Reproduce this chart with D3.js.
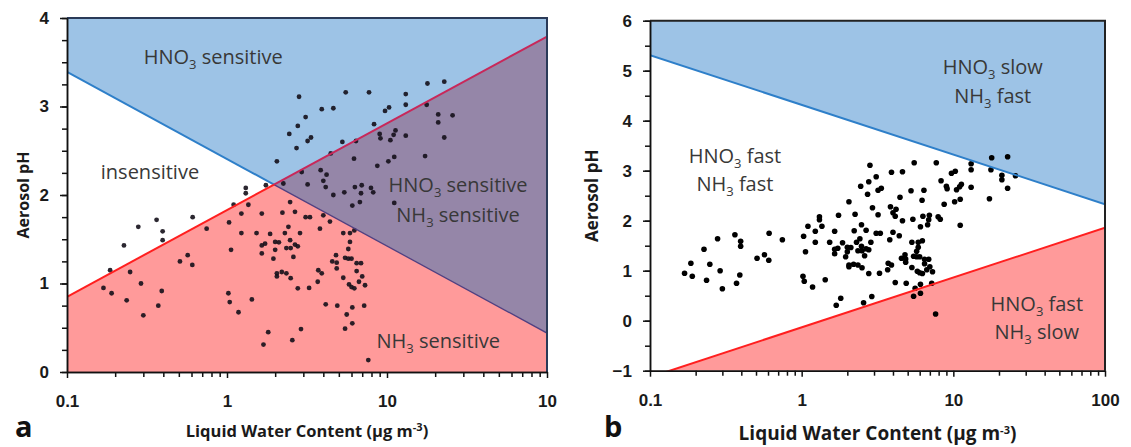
<!DOCTYPE html>
<html lang="en">
<head>
    <meta charset="UTF-8">
    <script src="https://cdnjs.cloudflare.com/ajax/libs/d3/7.8.5/d3.min.js"></script>
    <title>Aerosol pH sensitivity</title>
<style>
    body{
        margin: 0;
        background: white;
        font-family: 'Open Sans', 'Noto Sans', sans-serif;
    }
    .tickText text{
        font-weight: bold;
        font-size: 16px;
        fill: #1a1a1a;
    }
    .tickText path, .tickText line{
        stroke: #111;
        stroke-width: 1.5;
    }
    .region{
        font-size: 20px;
        fill: #383838;
    }
    .title{
        font-weight: bold;
        font-size: 16px;
        fill: #1a1a1a;
    }
    .panelLetter{
        font-weight: bold;
        font-size: 29px;
        fill: #111;
    }
</style>
</head>
<body>
<svg id="chart"></svg>
<script>
    // measurements: [liquid water content (ug m-3), aerosol pH]
    const measurements = [
        [0.169,0.95],[0.186,1.15],[0.19,0.89],[0.227,1.43],[0.236,0.81],[0.248,1.13],
        [0.279,1.64],[0.29,1.0],[0.30,0.64],[0.363,1.72],[0.372,0.75],[0.391,0.915],
        [0.396,1.59],[0.396,1.49],[0.508,1.25],[0.568,1.32],[0.607,1.21],[0.61,1.75],
        [0.746,1.62],[1.02,0.89],[1.03,1.69],[1.04,0.79],[1.06,1.38],[1.10,1.89],
        [1.18,0.675],[1.23,1.57],[1.23,1.79],[1.31,2.08],[1.31,2.02],[1.36,1.89],
        [1.43,0.82],[1.53,1.57],[1.65,1.43],[1.65,1.34],[1.65,1.79],[1.69,0.31],
        [1.73,1.45],[1.75,2.11],[1.81,0.45],[1.86,1.56],[1.95,1.28],[2.0,1.47],
        [2.0,1.38],[2.05,2.38],[2.05,1.115],[2.05,1.08],
        [2.82,3.11],[5.52,3.16],[7.72,3.16],[17.9,3.26],[22.8,3.28],[3.91,2.97],
        [4.62,2.98],[3.10,2.88],[2.77,2.78],[2.45,2.69],[3.35,2.65],[3.19,2.61],
        [2.72,2.53],[5.26,2.60],[6.4,2.61],[4.45,2.47],[8.3,2.80],[9.72,2.95],
        [10.3,2.99],[13.1,3.14],[13.1,3.02],[17.7,3.02],[20.9,2.91],[20.9,2.82],
        [25.7,2.90],[22.8,2.65],[9.0,2.69],[9.1,2.64],[11.3,2.73],[11.0,2.68],
        [10.5,2.62],[13.1,2.67],[6.22,2.41],[8.7,2.33],[10.2,2.38],[11.1,2.43],
        [17.3,2.44],[2.93,2.26],[2.25,2.13],[3.85,2.28],[4.19,2.23],[4.0,2.16],
        [3.19,2.12],[4.14,2.09],[4.62,2.0],[5.41,2.03],[6.3,2.09],[6.95,2.11],
        [6.88,2.02],[7.94,2.08],[8.2,2.03],[6.77,1.92],[6.07,1.88],[11.1,1.91],
        [2.48,1.92],[2.66,1.81],[2.22,1.80],[3.1,1.75],[3.3,1.75],[4.0,1.77],
        [2.42,1.64],[2.30,1.57],[2.86,1.57],[3.81,1.62],[5.33,1.57],[5.87,1.57],
        [6.25,1.6],[5.87,1.47],[5.73,1.39],[2.11,1.465],[2.48,1.49],[2.5,1.40],
        [2.35,1.40],[2.66,1.44],[2.77,1.42],[2.6,1.30],[2.2,1.13],[2.35,1.115],
        [2.5,1.06],[2.77,0.945],[3.26,0.95],[3.72,1.15],[3.91,1.115],[3.69,1.02],
        [4.8,1.32],[4.85,1.235],[4.55,1.25],[4.85,1.17],[5.47,1.29],[5.73,1.28],
        [6.0,1.28],[6.46,1.23],[6.88,1.23],[6.46,1.14],[5.33,1.065],[5.79,0.99],
        [6.0,0.96],[6.25,0.945],[7.0,1.08],[6.68,1.02],[7.29,0.98],[4.14,0.765],
        [4.89,0.75],[6.07,0.73],[7.2,0.75],[5.6,0.65],[6.07,0.55],[5.47,0.49],
        [2.9,0.485],[2.56,0.36],[7.64,0.135],[4.4,1.70]
    ]

    // boundary lines, pH at LWC = 0.1 and LWC = 100
    const hno3LineA = [[0.1, 3.39], [100, 0.44]]
    const nh3LineA = [[0.1, 0.85], [100, 3.79]]
    const hno3LineB = [[0.1, 5.31], [100, 2.33]]
    const nh3LineB = [[0.1, -1.13], [100, 1.86]]

    const xTickValues = [0.1, 1, 10, 100]
    const xTickLabelsA = ['0.1', '1', '10', '10']
    const xTickLabelsB = ['0.1', '1', '10', '100']
    const yTicksA = [0, 1, 2, 3, 4]
    const yTicksB = [-1, 0, 1, 2, 3, 4, 5, 6]

    const W = 1131, H = 447
    const svg = d3.select('#chart')
        .attr('width', W)
        .attr('height', H)

    // where two boundary lines meet (both straight on the log axis)
    function crossing(a, b) {
        const lg = Math.log10
        const sa = (a[1][1] - a[0][1]) / (lg(a[1][0]) - lg(a[0][0]))
        const sb = (b[1][1] - b[0][1]) / (lg(b[1][0]) - lg(b[0][0]))
        const u = (b[0][1] - a[0][1]) / (sa - sb)
        return [a[0][0] * Math.pow(10, u), a[0][1] + sa * u]
    }

    function makePanel(cfg) {
        const x = d3.scaleLog().domain([0.1, 100]).range([cfg.left, cfg.right])
        const y = d3.scaleLinear().domain(cfg.yDomain).range([cfg.bottom, cfg.top])
        const g = svg.append('g')

        g.append('clipPath').attr('id', cfg.id + 'clip')
            .append('rect')
            .attr('x', cfg.left).attr('y', cfg.top)
            .attr('width', cfg.right - cfg.left).attr('height', cfg.bottom - cfg.top)

        const plot = g.append('g').attr('clip-path', 'url(#' + cfg.id + 'clip)')
        const poly = pts => pts.map(p => [x(p[0]), y(p[1])].join(',')).join(' ')

        // filled regions
        cfg.regions.forEach(r => {
            plot.append('polygon')
                .attr('points', poly(r.pts))
                .attr('fill', r.fill)
        })

        // points
        plot.selectAll('circle')
            .data(measurements)
            .enter()
            .append('circle')
            .attr('cx', d => x(d[0]))
            .attr('cy', d => y(d[1]))
            .attr('r', cfg.dotR)
            .attr('fill', cfg.dotColor)

        // boundary lines
        const line = d3.line().x(d => x(d[0])).y(d => y(d[1]))
        cfg.lines.forEach(l => {
            plot.append('path')
                .attr('d', line(l.pts))
                .attr('fill', 'none')
                .attr('stroke', l.color)
                .attr('stroke-width', l.width)
        })

        // frame on top and right
        g.append('path')
            .attr('d', 'M' + cfg.left + ',' + cfg.top + 'H' + cfg.right + 'V' + cfg.bottom)
            .attr('fill', 'none')
            .attr('stroke', cfg.frame)
            .attr('stroke-width', 2)

        //create axes
        const minorX = [0.1, 1, 10].flatMap(d => d3.range(2, 10).map(k => k * d))
        g.append('g')
            .attr('class', 'tickText')
            .attr('transform', 'translate(0,' + cfg.bottom + ')')
            .call(d3.axisBottom(x).tickValues(minorX).tickSize(5).tickSizeOuter(0).tickFormat(''))
        const xAxis = g.append('g')
            .attr('class', 'tickText')
            .attr('transform', 'translate(0,' + cfg.bottom + ')')
            .call(d3.axisBottom(x).tickValues(xTickValues).tickSize(6).tickSizeOuter(0)
                .tickFormat((d, i) => cfg.xLabels[i]))
        xAxis.selectAll('text').attr('y', 23).attr('dy', '0.71em').style('font-size', '17px')

        const minorY = d3.range(cfg.yDomain[0], cfg.yDomain[1] + 0.001, cfg.yMinor)
        g.append('g')
            .attr('class', 'tickText')
            .attr('transform', 'translate(' + cfg.left + ',0)')
            .call(d3.axisLeft(y).tickValues(minorY).tickSize(5).tickSizeOuter(0).tickFormat(''))
        const yAxis = g.append('g')
            .attr('class', 'tickText')
            .attr('transform', 'translate(' + cfg.left + ',0)')
            .call(d3.axisLeft(y).tickValues(cfg.yTicks).tickSize(7).tickSizeOuter(0).tickFormat(d3.format('d')))
        yAxis.selectAll('text').attr('x', -18).style('font-size', '17px')

        // region labels
        cfg.labels.forEach(lb => {
            const t = g.append('text')
                .attr('class', 'region')
                .attr('x', x(lb.at[0]))
                .attr('y', y(lb.at[1]))
                .attr('text-anchor', 'middle')
            t.append('tspan').text(lb.pre)
            if (lb.sub) {
                t.append('tspan').attr('dy', 5).style('font-size', '13px').text(lb.sub)
                t.append('tspan').attr('dy', -5).text(lb.post)
            }
        })

        //create axes name
        g.append('text')
            .attr('class', 'title')
            .attr('transform', 'translate(' + cfg.yTitleX + ',' + ((cfg.top + cfg.bottom) / 2) + ') rotate(-90)')
            .attr('text-anchor', 'middle')
            .attr('dy', '0.35em')
            .style('font-size', cfg.yTitleSize)
            .text('Aerosol pH')

        const xt = g.append('text')
            .attr('class', 'title')
            .attr('x', (cfg.left + cfg.right) / 2)
            .attr('y', cfg.xTitleY)
            .attr('text-anchor', 'middle')
            .style('font-size', cfg.xTitleSize)
        xt.append('tspan').text('Liquid Water Content (\u00b5g m')
        xt.append('tspan').attr('dy', -6).style('font-size', '11px').text('-3')
        xt.append('tspan').attr('dy', 6).text(')')

        g.append('text')
            .attr('class', 'panelLetter')
            .attr('x', cfg.letterX)
            .attr('y', 437)
            .text(cfg.letter)
    }

    // panel a
    const crossA = crossing(hno3LineA, nh3LineA)
    makePanel({
        id: 'a', letter: 'a', letterX: 15,
        left: 67, right: 547, top: 18, bottom: 372,
        yDomain: [0, 4], yTicks: yTicksA, yMinor: 0.25,
        xLabels: xTickLabelsA,
        yTitleX: 23, yTitleSize: '16px', xTitleY: 437, xTitleSize: '16.5px',
        frame: '#2a3a58',
        dotR: 2.4, dotColor: 'rgba(20,15,25,0.9)',
        regions: [
            { fill: '#9dc3e6', pts: [[0.1, 4], [100, 4], nh3LineA[1], crossA, hno3LineA[0]] },
            { fill: '#ffffff', pts: [hno3LineA[0], crossA, nh3LineA[0]] },
            { fill: '#9586a8', pts: [crossA, nh3LineA[1], hno3LineA[1]] },
            { fill: '#ff9a9a', pts: [nh3LineA[0], crossA, hno3LineA[1], [100, 0], [0.1, 0]] }
        ],
        lines: [
            { pts: [hno3LineA[0], crossA], color: '#2e7fc9', width: 2 },
            { pts: [crossA, hno3LineA[1]], color: '#4f3f80', width: 1.3 },
            { pts: [nh3LineA[0], crossA], color: '#ff1f1f', width: 2 },
            { pts: [crossA, nh3LineA[1]], color: '#c8285a', width: 2 }
        ],
        labels: [
            { at: [0.82, 3.48], pre: 'HNO', sub: '3', post: ' sensitive' },
            { at: [0.33, 2.18], pre: 'insensitive' },
            { at: [27.8, 2.03], pre: 'HNO', sub: '3', post: ' sensitive' },
            { at: [27.8, 1.69], pre: 'NH', sub: '3', post: ' sensitive' },
            { at: [20.9, 0.27], pre: 'NH', sub: '3', post: ' sensitive' }
        ]
    })

    // panel b
    makePanel({
        id: 'b', letter: 'b', letterX: 604,
        left: 650, right: 1105, top: 20.7, bottom: 370.7,
        yDomain: [-1, 6], yTicks: yTicksB, yMinor: 0.5,
        xLabels: xTickLabelsB,
        yTitleX: 592, yTitleSize: '17px', xTitleY: 440, xTitleSize: '19px',
        frame: '#222',
        dotR: 2.8, dotColor: '#000',
        regions: [
            { fill: '#9dc3e6', pts: [[0.1, 6], [100, 6], hno3LineB[1], hno3LineB[0]] },
            { fill: '#ff9a9a', pts: [nh3LineB[0], nh3LineB[1], [100, -1], [0.1, -1]] }
        ],
        lines: [
            { pts: hno3LineB, color: '#2e7fc9', width: 2 },
            { pts: nh3LineB, color: '#ff1f1f', width: 2 }
        ],
        labels: [
            { at: [18.2, 4.93], pre: 'HNO', sub: '3', post: ' slow' },
            { at: [18.2, 4.35], pre: 'NH', sub: '3', post: ' fast' },
            { at: [0.363, 3.15], pre: 'HNO', sub: '3', post: ' fast' },
            { at: [0.363, 2.59], pre: 'NH', sub: '3', post: ' fast' },
            { at: [35.5, 0.19], pre: 'HNO', sub: '3', post: ' fast' },
            { at: [35.5, -0.37], pre: 'NH', sub: '3', post: ' slow' }
        ]
    })
</script>
</body>
</html>
